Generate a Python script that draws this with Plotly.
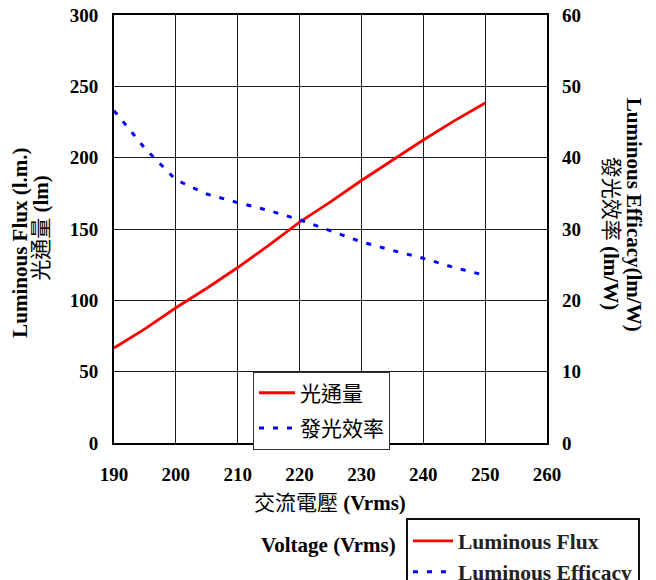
import plotly.graph_objects as go

# ---- data ----
voltage = [190, 195, 200, 205, 210, 215, 220, 225, 230, 235, 240, 245, 250]
luminous_flux = [66.6, 80.0, 94.8, 108.5, 123.0, 138.5, 154.8, 169.0, 184.0, 198.5, 212.4, 225.8, 238.3]
luminous_efficacy = [46.6, 41.3, 36.9, 34.9, 33.7, 32.6, 31.3, 29.7, 28.2, 27.0, 25.9, 24.6, 23.5]

x_ticks = [190, 200, 210, 220, 230, 240, 250, 260]
y_ticks = [0, 50, 100, 150, 200, 250, 300]
y2_ticks = [0, 10, 20, 30, 40, 50, 60]

name_flux_zh = "光通量"
name_eff_zh = "發光效率"
name_flux_en = "Luminous Flux"
name_eff_en = "Luminous Efficacy"

RED = "#ff0000"
BLUE = "#0000ff"
SERIF = "Liberation Serif, Times New Roman, serif"
CJK = "Liberation Serif, Noto Sans CJK TC, serif"

W, H = 656, 580
# target plot area in screen pixels: x 114..547, y 15..443.5
L = 114
T = 15
R = W - 547
B = H - 443.5
PW, PH = W - L - R, H - T - B

def px(xs):
    return (xs - L) / PW

def py(ys):
    return (T + PH - ys) / PH

fig = go.Figure()

flux_line = dict(color=RED, width=2.8)
eff_line = dict(color=BLUE, width=3, dash="5px,9px")

fig.add_trace(go.Scatter(x=voltage, y=luminous_flux, mode="lines", name=name_flux_zh,
                         line=flux_line, legend="legend", legendgroup="a"))
fig.add_trace(go.Scatter(x=voltage, y=luminous_efficacy, mode="lines", name=name_eff_zh,
                         line=eff_line, yaxis="y2", legend="legend", legendgroup="b"))
# English legend entries (second legend box)
fig.add_trace(go.Scatter(x=[None], y=[None], mode="lines", name=name_flux_en,
                         line=flux_line, legend="legend2"))
fig.add_trace(go.Scatter(x=[None], y=[None], mode="lines", name=name_eff_en,
                         line=eff_line, yaxis="y2", legend="legend2"))

tickfont = dict(family=SERIF, size=19, color="black", weight="bold")

fig.update_layout(
    width=W, height=H,
    margin=dict(l=L, r=R, t=T, b=B, autoexpand=False),
    paper_bgcolor="white", plot_bgcolor="white",
    xaxis=dict(range=[190, 260], tickvals=x_ticks, ticktext=[str(v) for v in x_ticks],
               showgrid=True, gridcolor="#1a1a1a", gridwidth=1,
               showline=True, linecolor="black", linewidth=2, mirror=True,
               zeroline=False, ticks="", tickfont=tickfont, ticklabelstandoff=13,
               ticklabeloverflow="allow"),
    yaxis=dict(range=[0, 300], tickvals=y_ticks, ticktext=[str(v) for v in y_ticks],
               showgrid=True, gridcolor="#1a1a1a", gridwidth=1,
               showline=True, linecolor="black", linewidth=2, mirror=True,
               zeroline=False, ticks="", tickfont=tickfont, ticklabelstandoff=10,
               ticklabeloverflow="allow"),
    yaxis2=dict(range=[0, 60], tickvals=y2_ticks, ticktext=[str(v) for v in y2_ticks],
                overlaying="y", side="right", showgrid=False, showline=False,
                zeroline=False, ticks="", tickfont=tickfont, ticklabelstandoff=14,
                ticklabeloverflow="allow"),
    legend=dict(x=px(253), y=py(372), xanchor="left", yanchor="top",
                bgcolor="white", bordercolor="#333", borderwidth=1,
                font=dict(family="Noto Sans CJK TC", size=21, color="black"),
                tracegroupgap=5, itemwidth=36),
    legend2=dict(x=px(406), y=py(519), xanchor="left", yanchor="top",
                 bgcolor="white", bordercolor="#111", borderwidth=2,
                 font=dict(family=SERIF, size=21.5, color="#222", weight="bold"),
                 itemwidth=40),
    showlegend=True,
)

def ann(text, xs, ys, angle=0, size=21):
    fig.add_annotation(text=text, x=px(xs), y=py(ys), xref="paper", yref="paper",
                       showarrow=False, textangle=angle, xanchor="center", yanchor="middle",
                       font=dict(family=CJK, size=size, color="black"))

ann("<b>Luminous Flux (l.m.)</b>", 20, 243, -90)
ann("光通量 <b>(lm)</b>", 41, 228, -90)
ann("<b>Luminous Efficacy(lm/W)</b>", 634, 215, 90)
ann("發光效率 <b>(lm/W)</b>", 611, 233, 90)
ann("交流電壓 <b>(Vrms)</b>", 330, 504, 0)
ann("<b>Voltage (Vrms)</b>", 328, 546, 0)

fig.write_html("out.html", config={"displayModeBar": False},
               post_script="document.body.style.margin='0';")
